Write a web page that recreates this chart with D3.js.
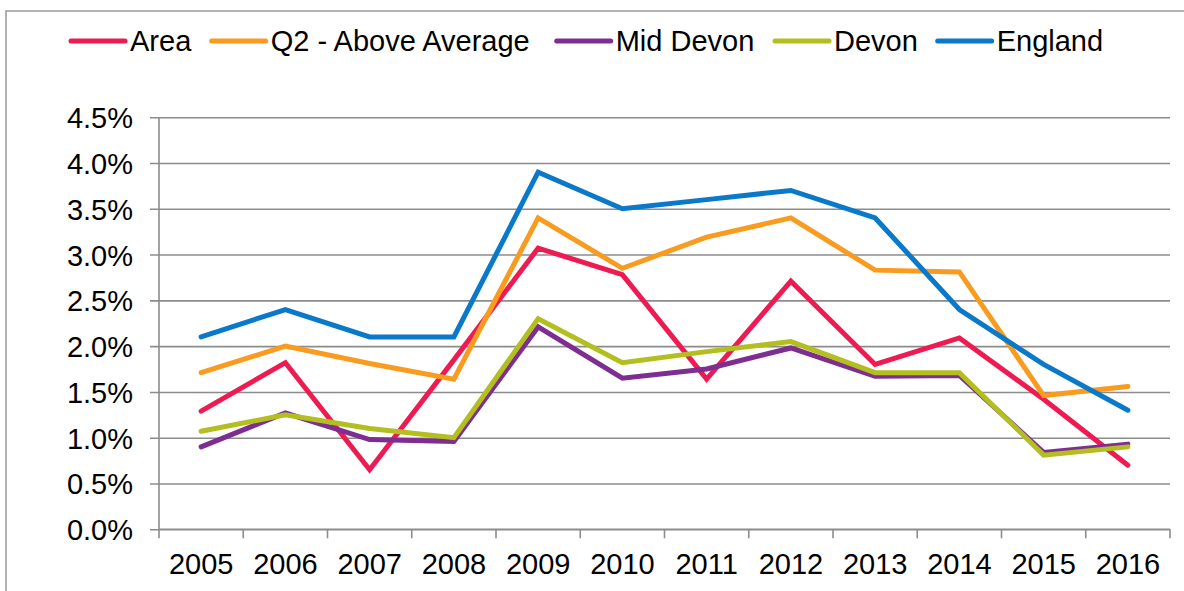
<!DOCTYPE html>
<html>
<head>
<meta charset="utf-8">
<script src="https://cdn.jsdelivr.net/npm/d3@7"></script>
<style>
  html, body { margin: 0; padding: 0; background: #fff; }
  svg { display: block; font-family: "Liberation Sans", Arial, sans-serif; }
</style>
</head>
<body>
<svg id="chart" width="1184" height="591"></svg>
<script>
// Annual rates by year
const years = ["2005", "2006", "2007", "2008", "2009", "2010", "2011", "2012", "2013", "2014", "2015", "2016"];
const area      = [1.29, 1.82, 0.65, 1.85, 3.07, 2.78, 1.64, 2.71, 1.80, 2.09, 1.42, 0.70];
const q2Above   = [1.71, 2.00, 1.81, 1.64, 3.40, 2.85, 3.19, 3.40, 2.83, 2.81, 1.46, 1.56];
const midDevon  = [0.90, 1.27, 0.98, 0.96, 2.21, 1.65, 1.75, 1.98, 1.67, 1.68, 0.84, 0.93];
const devon     = [1.07, 1.25, 1.10, 1.00, 2.30, 1.82, 1.94, 2.05, 1.71, 1.71, 0.81, 0.90];
const england   = [2.10, 2.40, 2.10, 2.10, 3.90, 3.50, 3.60, 3.70, 3.40, 2.40, 1.80, 1.30];
const seriesNames = ["Area", "Q2 - Above Average", "Mid Devon", "Devon", "England"];
const yTicks = [0, 0.5, 1.0, 1.5, 2.0, 2.5, 3.0, 3.5, 4.0, 4.5];

const colors = ["#ED1B51", "#F99B1F", "#7E2E91", "#B3BE1F", "#0A79C9"];
const seriesValues = [area, q2Above, midDevon, devon, england];
const series = seriesNames.map((name, i) => ({ name, values: seriesValues[i], color: colors[i] }));

const svg = d3.select("#chart");
const FONT = 29;
const plot = { left: 159, right: 1170, top: 117.2, bottom: 529.3 };
const gridColor = "#8c8c8c";

// outer frame
svg.append("rect")
  .attr("x", 6).attr("y", 11)
  .attr("width", 1200).attr("height", 600)
  .attr("fill", "none").attr("stroke", "#9a9a9a").attr("stroke-width", 1.5);

const x = d3.scaleBand().domain(years).range([plot.left, plot.right]).padding(0);
const y = d3.scaleLinear().domain([0, 4.5]).range([plot.bottom, plot.top]);

// horizontal gridlines with outward ticks, percent labels
const yAxis = d3.axisLeft(y)
  .tickValues(yTicks)
  .tickSize(-(plot.right - plot.left))
  .tickPadding(26)
  .tickFormat(d => d.toFixed(1) + "%");

const gy = svg.append("g").attr("transform", `translate(${plot.left},0)`).call(yAxis);
gy.select(".domain").remove();
gy.selectAll(".tick line")
  .attr("x1", -9)
  .attr("stroke", gridColor).attr("stroke-width", 1.6);
gy.selectAll(".tick text")
  .attr("font-size", FONT).attr("fill", "#000")
  .attr("font-family", "'Liberation Sans', Arial, sans-serif")
  .attr("dy", "0.36em");

// vertical axis line
svg.append("line")
  .attr("x1", plot.left).attr("x2", plot.left)
  .attr("y1", plot.top).attr("y2", plot.bottom)
  .attr("stroke", gridColor).attr("stroke-width", 1.6);

// category axis: ticks at band boundaries
const gx = svg.append("g").attr("transform", `translate(0,${plot.bottom})`)
  .call(d3.axisBottom(x).tickSize(0).tickPadding(30));
gx.select(".domain")
  .attr("d", `M${plot.left},0H${plot.right}`)
  .attr("stroke", gridColor).attr("stroke-width", 1.6);
gx.selectAll(".tick text")
  .attr("font-size", FONT).attr("fill", "#000")
  .attr("font-family", "'Liberation Sans', Arial, sans-serif")
  .attr("dy", "0.5em");

const boundaries = years.map(d => x(d)).concat([x(years[years.length - 1]) + x.bandwidth()]);
svg.append("g").selectAll("line").data(boundaries).join("line")
  .attr("x1", d => d).attr("x2", d => d)
  .attr("y1", plot.bottom).attr("y2", plot.bottom + 9)
  .attr("stroke", gridColor).attr("stroke-width", 1.6);

// series lines
const line = d3.line()
  .x((d, i) => x(years[i]) + x.bandwidth() / 2)
  .y(d => y(d));

svg.append("g").selectAll("path").data(series).join("path")
  .attr("d", d => line(d.values))
  .attr("fill", "none")
  .attr("stroke", d => d.color)
  .attr("stroke-width", 5)
  .attr("stroke-linejoin", "miter")
  .attr("stroke-linecap", "round");

// legend
const legendX = [71, 211.7, 556.7, 775, 937.7];
const legendY = 41;
const lg = svg.append("g").selectAll("g").data(series).join("g")
  .attr("transform", (d, i) => `translate(${legendX[i]},${legendY})`);
lg.append("line")
  .attr("x1", 0).attr("x2", 54)
  .attr("stroke", d => d.color).attr("stroke-width", 5)
  .attr("stroke-linecap", "round");
lg.append("text")
  .attr("x", 59).attr("dy", "0.36em")
  .attr("font-size", FONT).attr("fill", "#000")
  .text(d => d.name);
</script>
</body>
</html>
